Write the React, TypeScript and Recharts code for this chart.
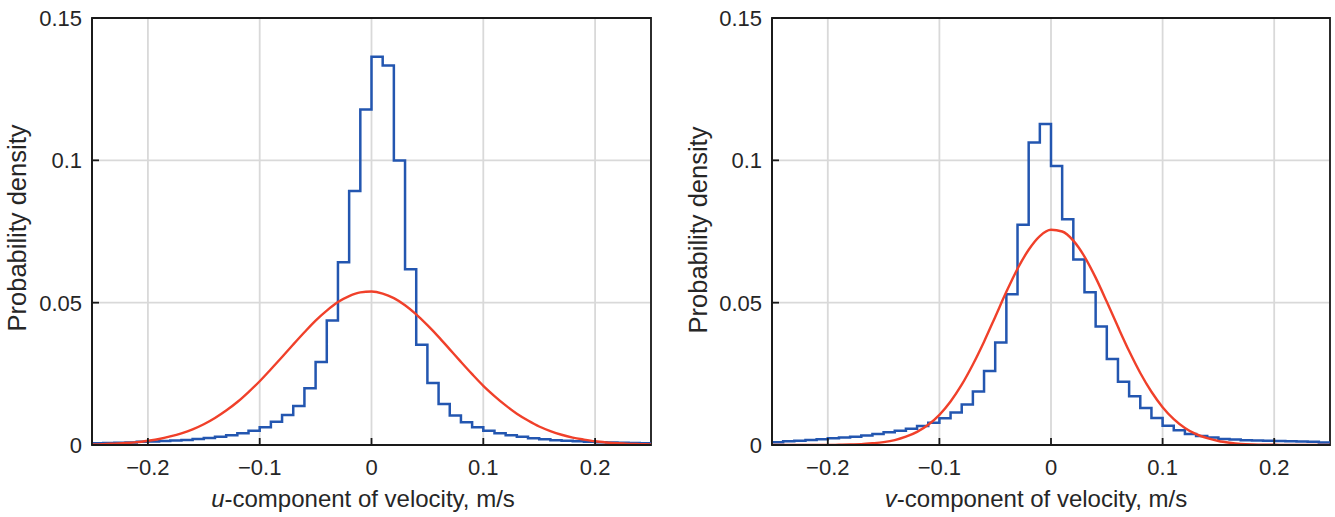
import React from 'react';
import { LineChart, Line, XAxis, YAxis, CartesianGrid, ReferenceArea } from 'recharts';

// Bin edges (m/s), shared by histograms and fitted curves
const binEdges = [
  -0.25, -0.24, -0.23, -0.22, -0.21, -0.2, -0.19, -0.18, -0.17, -0.16,
  -0.15, -0.14, -0.13, -0.12, -0.11, -0.1, -0.09, -0.08, -0.07, -0.06,
  -0.05, -0.04, -0.03, -0.02, -0.01, 0, 0.01, 0.02, 0.03, 0.04,
  0.05, 0.06, 0.07, 0.08, 0.09, 0.1, 0.11, 0.12, 0.13, 0.14,
  0.15, 0.16, 0.17, 0.18, 0.19, 0.2, 0.21, 0.22, 0.23, 0.24, 0.25,
];

// u-component histogram (50 bins)
const histU = [
  0.0006, 0.0007, 0.0008, 0.0009, 0.0011, 0.0012, 0.0014, 0.0016, 0.0018, 0.0021,
  0.0025, 0.0029, 0.0034, 0.0041, 0.005, 0.0062, 0.0082, 0.0105, 0.0137, 0.0199,
  0.0292, 0.0437, 0.0642, 0.0892, 0.1179, 0.1364, 0.1333, 0.0999, 0.0617, 0.0352,
  0.0218, 0.0144, 0.0104, 0.008, 0.0062, 0.005, 0.0041, 0.0034, 0.0029, 0.0024,
  0.002, 0.0017, 0.0015, 0.0013, 0.0011, 0.001, 0.0009, 0.0008, 0.0007, 0.0006,
];

// v-component histogram (50 bins)
const histV = [
  0.001, 0.0013, 0.0015, 0.0018, 0.002, 0.0024, 0.0026, 0.0029, 0.0033, 0.0039,
  0.0045, 0.005, 0.0057, 0.0067, 0.0078, 0.0094, 0.0114, 0.0142, 0.0188, 0.026,
  0.036, 0.053, 0.0774, 0.1063, 0.1128, 0.098, 0.0793, 0.0652, 0.0537, 0.0416,
  0.0302, 0.0222, 0.0171, 0.013, 0.0095, 0.0068, 0.0052, 0.0039, 0.0032, 0.0026,
  0.0021, 0.0019, 0.0017, 0.0016, 0.0015, 0.0014, 0.0013, 0.0012, 0.0011, 0.0009,
];

// Fitted normal curves sampled at bin edges
const fitU = [
  0.0002, 0.0003, 0.0005, 0.0007, 0.001, 0.0015, 0.0021, 0.003, 0.0041, 0.0055,
  0.0073, 0.0095, 0.0121, 0.0151, 0.0186, 0.0224, 0.0266, 0.0309, 0.0353, 0.0396,
  0.0437, 0.0472, 0.0502, 0.0523, 0.0536, 0.0539, 0.0532, 0.0516, 0.0491, 0.0459,
  0.0421, 0.038, 0.0336, 0.0292, 0.0249, 0.0208, 0.0172, 0.0139, 0.011, 0.0086,
  0.0065, 0.0049, 0.0036, 0.0026, 0.0019, 0.0013, 0.0009, 0.0006, 0.0004, 0.0003, 0.0002,
];

const fitV = [
  0, 0, 0, 0, 0, 0, 0.0001, 0.0002, 0.0003, 0.0006,
  0.001, 0.0017, 0.0029, 0.0046, 0.0071, 0.0106, 0.0153, 0.0212, 0.0283, 0.0363,
  0.045, 0.0538, 0.0619, 0.0686, 0.0734, 0.0756, 0.075, 0.0718, 0.0662, 0.0588,
  0.0503, 0.0415, 0.033, 0.0253, 0.0187, 0.0133, 0.0091, 0.006, 0.0038, 0.0024,
  0.0014, 0.0008, 0.0004, 0.0002, 0.0001, 0.0001, 0, 0, 0, 0, 0,
];

const xTicks = [-0.2, -0.1, 0, 0.1, 0.2];
const yTicks = [0, 0.05, 0.1, 0.15];
const xDomain = [-0.25, 0.25];
const yDomain = [0, 0.15];

const FONT = '"Liberation Sans", Arial, Helvetica, sans-serif';
const TEXT = '#262626';
const AXIS = '#1a1a1a';
const BLUE = '#2356b0';
const RED = '#f0402a';
const GRID = '#d9d9d9';

const histData = (vals: number[]) => {
  const d = vals.map((v, i) => ({ x: binEdges[i], y: v }));
  d.push({ x: binEdges[vals.length], y: vals[vals.length - 1] });
  return d;
};
const curveData = (vals: number[]) => vals.map((v, i) => ({ x: binEdges[i], y: v }));

const fmt = (v: number) => {
  if (v === 0) return '0';
  const s = String(Math.abs(v));
  return v < 0 ? '\u2212' + s : s;
};

const XTick = (props: any) => {
  const { x, y, payload } = props;
  return (
    <g>
      <line x1={x} x2={x} y1={y} y2={y - 7} stroke={AXIS} strokeWidth={1.8} />
      <text x={x} y={y + 30} textAnchor="middle" fontSize={22} fontFamily={FONT} fill={TEXT}>
        {fmt(payload.value)}
      </text>
    </g>
  );
};

const YTick = (props: any) => {
  const { x, y, payload } = props;
  return (
    <g>
      <line x1={x} x2={x + 7} y1={y} y2={y} stroke={AXIS} strokeWidth={1.8} />
      <text x={x - 10} y={y + 8} textAnchor="end" fontSize={22} fontFamily={FONT} fill={TEXT}>
        {fmt(payload.value)}
      </text>
    </g>
  );
};

const Panel = ({ hist, fit, width, right }: { hist: number[]; fit: number[]; width: number; right: number }) => (
  <LineChart width={width} height={517} margin={{ top: 18, right, bottom: 0, left: 0 }}>
    <CartesianGrid stroke={GRID} strokeWidth={1.8} />
    <XAxis
      type="number"
      dataKey="x"
      domain={xDomain}
      ticks={xTicks}
      allowDataOverflow
      height={72}
      tickSize={0}
      tickMargin={0}
      tick={<XTick />}
      axisLine={{ stroke: AXIS, strokeWidth: 1.8 }}
      tickLine={false}
      interval={0}
    />
    <YAxis
      type="number"
      dataKey="y"
      domain={yDomain}
      ticks={yTicks}
      allowDataOverflow
      width={92}
      tickSize={0}
      tickMargin={0}
      tick={<YTick />}
      axisLine={{ stroke: AXIS, strokeWidth: 1.8 }}
      tickLine={false}
      interval={0}
    />
    <ReferenceArea
      x1={xDomain[0]}
      x2={xDomain[1]}
      y1={yDomain[0]}
      y2={yDomain[1]}
      fill="none"
      fillOpacity={0}
      stroke={AXIS}
      strokeWidth={1.8}
      ifOverflow="visible"
    />
    <Line
      data={histData(hist)}
      dataKey="y"
      type="stepAfter"
      stroke={BLUE}
      strokeWidth={2.5}
      dot={false}
      activeDot={false}
      isAnimationActive={false}
    />
    <Line
      data={curveData(fit)}
      dataKey="y"
      type="monotone"
      stroke={RED}
      strokeWidth={2.4}
      dot={false}
      activeDot={false}
      isAnimationActive={false}
    />
  </LineChart>
);

export default function App() {
  return (
    <div style={{ position: 'absolute', left: 0, top: 0, width: 1335, height: 517, background: '#fff' }}>
      <div style={{ position: 'absolute', left: 0, top: 0 }}>
        <Panel hist={histU} fit={fitU} width={660} right={9} />
      </div>
      <div style={{ position: 'absolute', left: 680, top: 0 }}>
        <Panel hist={histV} fit={fitV} width={655} right={5} />
      </div>
      <svg
        width={1335}
        height={517}
        style={{ position: 'absolute', left: 0, top: 0, pointerEvents: 'none' }}
      >
        <g fontFamily={FONT} fill={TEXT}>
          <text x={17} y={228} fontSize={25.5} textAnchor="middle" dominantBaseline="central" transform="rotate(-90 17 228)">
            Probability density
          </text>
          <text x={698} y={230} fontSize={25.5} textAnchor="middle" dominantBaseline="central" transform="rotate(-90 698 230)">
            Probability density
          </text>
          <text x={363} y={507} fontSize={24} textAnchor="middle">
            <tspan fontStyle="italic">u</tspan>-component of velocity, m/s
          </text>
          <text x={1036} y={507} fontSize={24} textAnchor="middle">
            <tspan fontStyle="italic">v</tspan>-component of velocity, m/s
          </text>
        </g>
      </svg>
    </div>
  );
}
